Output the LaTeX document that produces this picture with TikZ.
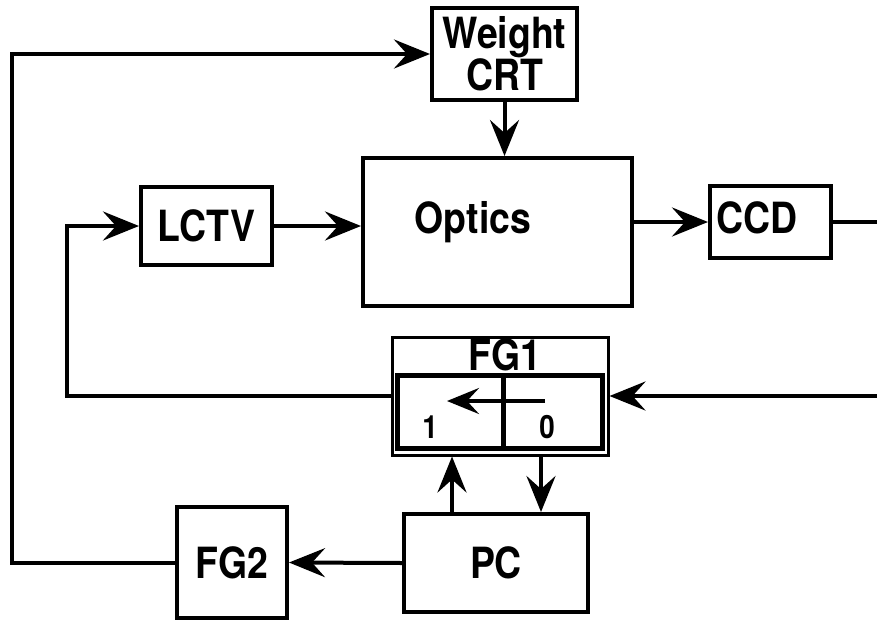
\documentclass[tikz,border=0pt]{standalone}
\usepackage{fontspec}
\setmainfont[FakeStretch=0.87]{TeX Gyre Heros}
\usepackage{tikz}
\usetikzlibrary{arrows.meta}

\tikzset{
  blk/.style={draw, line width=4pt, inner sep=0pt, font=\bfseries\fontsize{43}{37}\selectfont, align=center},
  txt/.style={inner sep=0pt, font=\bfseries\fontsize{43}{37}\selectfont},
  num/.style={inner sep=0pt, font=\bfseries\fontsize{32}{34}\selectfont},
  arr/.style={line width=4pt, -{Stealth[length=36pt,width=29pt,inset=13pt]}},
  wire/.style={line width=4pt}
}

\begin{document}
\begin{tikzpicture}[x=1pt, y=-1pt]
  \useasboundingbox (0,0) rectangle (877,621);
  % boxes
  \node[blk, minimum width=145, minimum height=92] (crt) at (504.5,54) {Weight\\CRT};
  \node[blk, minimum width=269, minimum height=148] (optics) at (497.5,232) {};
  \node[txt] (opticslbl) at (473,222) {Optics};
  \node[blk, minimum width=131, minimum height=78] (lctv) at (206.5,226) {LCTV};
  \node[blk, minimum width=121, minimum height=72] (ccd) at (770.5,222) {};
  \node[txt] (ccdlbl) at (757,218) {CCD};
  \node[draw, line width=3pt, minimum width=216, minimum height=118] (fgone) at (500,396) {};
  \node[txt] (fgonelbl) at (505,355) {FG1};
  \node[draw, line width=5pt, minimum width=106, minimum height=73] (cellone) at (450,411.5) {};
  \node[draw, line width=5pt, minimum width=99, minimum height=73] (cellzero) at (552.5,411.5) {};
  \node[num] (one) at (430,427) {1};
  \node[num] (zero) at (547,427) {0};
  \node[blk, minimum width=184, minimum height=98] (pc) at (496,563) {PC};
  \node[blk, minimum width=110, minimum height=111] (fgtwo) at (232,562.5) {FG2};
  % free ends
  \coordinate (ccdout) at (877,222);
  \coordinate (fgin) at (877,396);
  \coordinate (shiftfrom) at (545,401);
  \coordinate (shiftto) at (447,401);
  % connectors
  \draw[arr] (crt.south) -- (crt.south |- optics.north);
  \draw[arr] (lctv.east) -- (optics.west |- lctv.east);
  \draw[arr] (ccd.west -| optics.east) -- (ccd.west);
  \draw[wire] (ccd.east) -- (ccdout);
  \draw[arr] (fgin) -- (fgone.east);
  \draw[arr] (fgone.west) -- ++(-324,0) |- (lctv.west);
  \draw[arr, -{Stealth[length=32pt,width=26pt,inset=12pt]}] (shiftfrom) -- (shiftto);
  \draw[arr] ([xshift=-44pt]pc.north) -- ([xshift=-44pt]pc.north |- fgone.south);
  \draw[arr] ([xshift=45pt]pc.north |- fgone.south) -- ([xshift=45pt]pc.north);
  \draw[arr] (pc.west) -- (fgtwo.east);
  \draw[arr] (fgtwo.west) -- ++(-163,0) |- (crt.west);
\end{tikzpicture}
\end{document}
